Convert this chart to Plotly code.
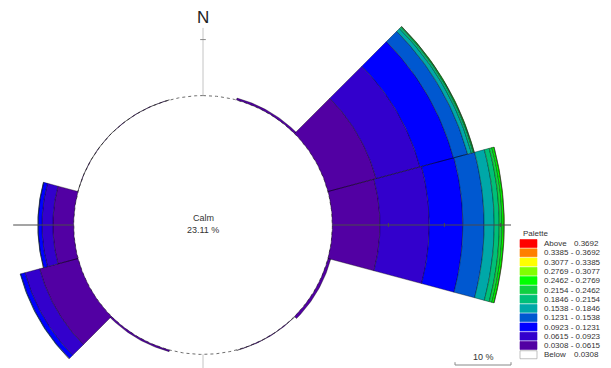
import numpy as np
import plotly.graph_objects as go

# ---------------- data ----------------
directions = [0, 30, 60, 90, 120, 150, 180, 210, 240, 270, 300, 330]   # sector centres (deg from N)
sector_width = 30
calm_pct = 23.11

# frequency (%) of each palette class per direction
f_0308_0615 = [0, 0.35, 8.9, 8.5, 0.5, 0.08, 0, 0.3, 7.1, 3.7, 0.03, 0.03]
f_0615_0923 = [0, 0, 8.1, 8.8, 0, 0, 0, 0, 2.7, 1.95, 0, 0]
f_0923_1231 = [0, 0, 6.2, 6.0, 0, 0, 0, 0, 0.8, 0.7, 0, 0]
f_1231_1538 = [0, 0, 2.6, 3.8, 0, 0, 0, 0, 0.1, 0.05, 0, 0]
f_1538_1846 = [0, 0, 0.7, 1.8, 0, 0, 0, 0, 0, 0, 0, 0]
f_1846_2154 = [0, 0, 0.35, 0.9, 0, 0, 0, 0, 0, 0, 0, 0]
f_2154_2462 = [0, 0, 0.15, 0.5, 0, 0, 0, 0, 0, 0, 0, 0]
f_2462_2769 = [0, 0, 0.05, 0.35, 0, 0, 0, 0, 0, 0, 0, 0]
f_2769_3077 = [0, 0, 0, 0.05, 0, 0, 0, 0, 0, 0, 0, 0]

class_freqs = [f_0308_0615, f_0615_0923, f_0923_1231, f_1231_1538, f_1538_1846,
               f_1846_2154, f_2154_2462, f_2462_2769, f_2769_3077]

legend_labels = ["Above", "0.3385 - 0.3692", "0.3077 - 0.3385", "0.2769 - 0.3077",
                 "0.2462 - 0.2769", "0.2154 - 0.2462", "0.1846 - 0.2154",
                 "0.1538 - 0.1846", "0.1231 - 0.1538", "0.0923 - 0.1231",
                 "0.0615 - 0.0923", "0.0308 - 0.0615", "Below"]
legend_values = {"Above": "0.3692", "Below": "0.0308"}
legend_colors = ["#ff0000", "#ff8000", "#ffff00", "#80ff00", "#00ff00", "#10d040",
                 "#00c078", "#00a8a8", "#0058d0", "#0000ff", "#3300cc", "#5200a3", "#ffffff"]
# colours of the classes above, from lowest (0.0308-0.0615) upward
class_colors = legend_colors[-2::-1]

# ---------------- layout geometry ----------------
W, H = 611, 368
cx, cy = 203, 225          # pixel position of rose centre
ppu = 5.6                  # pixels per percent
xr = [-cx / ppu, (W - cx) / ppu]
yr = [-(H - cy) / ppu, cy / ppu]


def wedge(theta, r0, r1, width, n=40):
    a = np.radians(np.linspace(theta - width / 2, theta + width / 2, n))
    xs = np.concatenate([r1 * np.sin(a), r0 * np.sin(a[::-1])])
    ys = np.concatenate([r1 * np.cos(a), r0 * np.cos(a[::-1])])
    return list(xs) + [xs[0], None], list(ys) + [ys[0], None]


fig = go.Figure()

# calm circle outline
t = np.radians(np.linspace(0, 360, 361))
fig.add_trace(go.Scatter(x=calm_pct * np.sin(t), y=calm_pct * np.cos(t), mode="lines",
                         line=dict(color="#6e6e6e", width=1, dash="dot"),
                         hoverinfo="skip", showlegend=False))

base = np.full(len(directions), calm_pct)
for freqs, col in zip(class_freqs, class_colors):
    xs, ys = [], []
    for d, b, f in zip(directions, base, freqs):
        if f > 0:
            wx, wy = wedge(d, b, b + f, sector_width)
            xs += wx
            ys += wy
    base = base + np.array(freqs)
    if xs:
        fig.add_trace(go.Scatter(x=xs, y=ys, mode="lines", fill="toself", fillcolor=col,
                                 line=dict(color="rgba(0,0,0,0.6)", width=0.6),
                                 hoverinfo="skip", showlegend=False))

# axis lines
axis_grey = "#4a4a4a"
light = "#c4c4c4"
fig.add_shape(type="line", x0=0, x1=0, y0=calm_pct, y1=35.2, line=dict(color=light, width=1))
fig.add_shape(type="line", x0=-0.5, x1=0.5, y0=calm_pct + 10, y1=calm_pct + 10, line=dict(color="#888", width=1))
fig.add_shape(type="line", x0=0, x1=0, y0=-calm_pct, y1=yr[0], line=dict(color=light, width=1))
fig.add_shape(type="line", x0=-33.9, x1=-calm_pct, y0=0, y1=0, line=dict(color=axis_grey, width=1))
fig.add_shape(type="line", x0=calm_pct, x1=55.0, y0=0, y1=0, line=dict(color=axis_grey, width=1))
for k in (10, 20, 30):
    fig.add_shape(type="line", x0=calm_pct + k, x1=calm_pct + k, y0=-0.35, y1=0.35,
                  line=dict(color=axis_grey, width=1))

fig.add_annotation(x=0, y=37.1, text="N", showarrow=False,
                   font=dict(size=17, color="#222", family="Liberation Sans, Arial"))
fig.add_annotation(x=0, y=1.2, text="Calm", showarrow=False,
                   font=dict(size=9, color="#333", family="Liberation Sans, Arial"))
fig.add_annotation(x=0, y=-0.95, text="23.11 %", showarrow=False,
                   font=dict(size=9, color="#333", family="Liberation Sans, Arial"))

# scale bar (10 %)
sb_x0, sb_y = 45.0, -25.0
fig.add_shape(type="line", x0=sb_x0, x1=sb_x0 + 10, y0=sb_y, y1=sb_y, line=dict(color="#888", width=1))
fig.add_shape(type="line", x0=sb_x0, x1=sb_x0, y0=sb_y, y1=sb_y + 0.5, line=dict(color="#888", width=1))
fig.add_shape(type="line", x0=sb_x0 + 10, x1=sb_x0 + 10, y0=sb_y, y1=sb_y + 0.5, line=dict(color="#888", width=1))
fig.add_annotation(x=sb_x0 + 5, y=sb_y + 1.4, text="10 %", showarrow=False,
                   font=dict(size=9, color="#333", family="Liberation Sans, Arial"))

# palette legend
def px(x):
    return x / W


def py(y):
    return 1 - y / H


lfont = dict(size=8, color="#333", family="Liberation Sans, Arial")
fig.add_annotation(xref="paper", yref="paper", x=px(521), y=py(233), text="Palette",
                   showarrow=False, xanchor="left", yanchor="middle", font=lfont)
row0, pitch = 239.5, 9.27
for i, (lab, col) in enumerate(zip(legend_labels, legend_colors)):
    top = row0 + i * pitch
    fig.add_shape(type="rect", xref="paper", yref="paper", x0=px(520), x1=px(537),
                  y0=py(top + 8), y1=py(top), fillcolor=col,
                  line=dict(color="#999" if col == "#ffffff" else col, width=0.6))
    fig.add_annotation(xref="paper", yref="paper", x=px(542), y=py(top + 4.2), text=lab,
                       showarrow=False, xanchor="left", yanchor="middle", font=lfont)
    if lab in legend_values:
        fig.add_annotation(xref="paper", yref="paper", x=px(601), y=py(top + 4.2),
                           text=legend_values[lab], showarrow=False, xanchor="right",
                           yanchor="middle", font=lfont)

fig.update_layout(
    width=W, height=H, margin=dict(l=0, r=0, t=0, b=0),
    paper_bgcolor="white", plot_bgcolor="white", showlegend=False,
    xaxis=dict(range=xr, visible=False, fixedrange=True),
    yaxis=dict(range=yr, visible=False, scaleanchor="x", scaleratio=1, fixedrange=True),
)
fig.write_html("out.html")
